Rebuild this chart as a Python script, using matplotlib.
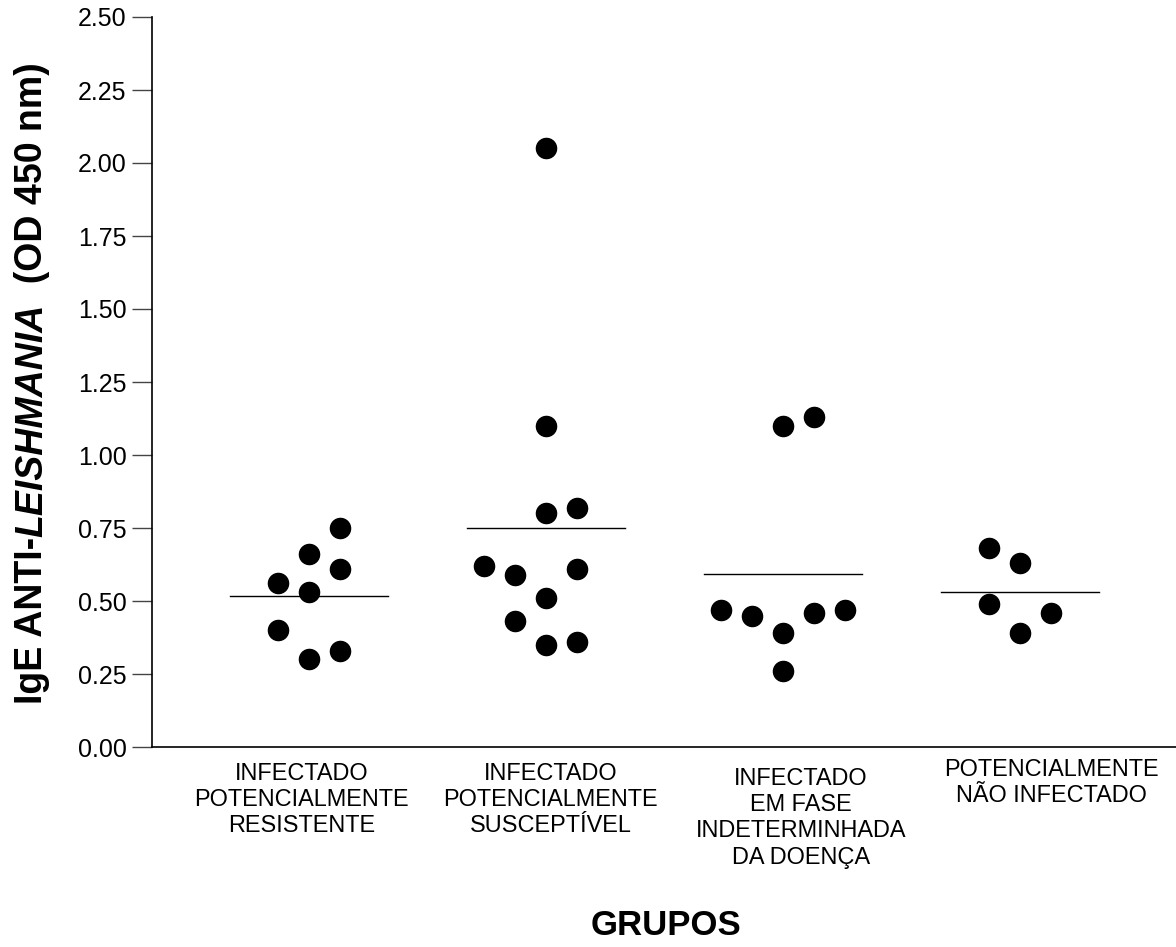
import matplotlib

matplotlib.use("Agg")
import matplotlib.pyplot as plt
import matplotlib.transforms as mtransforms
import numpy as np

plt.rcParams["font.family"] = ["Liberation Sans", "DejaVu Sans"]

# valores (IgE anti-Leishmania, OD 450 nm)
g1_values = [0.75, 0.66, 0.61, 0.56, 0.53, 0.40, 0.30, 0.33]
g2_values = [2.05, 1.10, 0.80, 0.82, 0.62, 0.59, 0.61, 0.51, 0.43, 0.35, 0.36]
g3_values = [1.10, 1.13, 0.47, 0.45, 0.39, 0.46, 0.47, 0.26]
g4_values = [0.68, 0.63, 0.49, 0.46, 0.39]

# coluna de cada ponto dentro do grupo (deslocamento lateral)
g1_cols = [1, 0, 1, -1, 0, -1, 0, 1]
g2_cols = [0, 0, 0, 1, -2, -1, 1, 0, -1, 0, 1]
g3_cols = [0, 1, -2, -1, 0, 1, 2, 0]
g4_cols = [-1, 0, -1, 1, 0]

group_labels = [
    "INFECTADO\nPOTENCIALMENTE\nRESISTENTE",
    "INFECTADO\nPOTENCIALMENTE\nSUSCEPTÍVEL",
    "INFECTADO\nEM FASE\nINDETERMINHADA\nDA DOENÇA",
    "POTENCIALMENTE\nNÃO INFECTADO",
]
y_ticks = [0.00, 0.25, 0.50, 0.75, 1.00, 1.25, 1.50, 1.75, 2.00, 2.25, 2.50]

W, H = 1176, 947
fig = plt.figure(figsize=(W / 100, H / 100), dpi=100)
ax = fig.add_axes([152 / W, 1 - 747 / H, 1 - 152 / W, (747 - 17) / H])

groups = [(g1_values, g1_cols), (g2_values, g2_cols), (g3_values, g3_cols), (g4_values, g4_cols)]
col_step = 0.131
half_line = 0.333
for i, (vals, cols) in enumerate(groups, start=1):
    xs = i + np.array(cols) * col_step
    ax.plot(xs, vals, "o", ms=14.5, color="black", mec="black", zorder=3)
    m = np.mean(vals)
    ax.plot([i - half_line, i + half_line], [m, m], color="black", lw=1.0, zorder=2)

ax.set_xlim(1 - 157 / 237, 4 + 156 / 237)
ax.set_ylim(0, 2.5)
ax.set_yticks(y_ticks)
ax.set_yticklabels([f"{t:.2f}" for t in y_ticks])
ax.set_xticks([])
ax.tick_params(axis="y", direction="out", length=14.4, width=1.0, color="#444444",
               labelsize=18, pad=4)
for side in ("top", "right"):
    ax.spines[side].set_visible(False)
ax.spines["left"].set_linewidth(1.2)
ax.spines["bottom"].set_linewidth(1.2)

# rótulos dos grupos
trans = mtransforms.blended_transform_factory(ax.transData, fig.transFigure)
label_x = [0.969, 2.02, 3.076, 4.131]
label_top = [762, 762, 767, 758]
for lx, ly, txt in zip(label_x, label_top, group_labels):
    ax.text(lx, 1 - ly / H, txt, transform=trans, ha="center", va="top",
            fontsize=16.9, linespacing=1.18)

fig.text(666 / W, 1 - 925 / H, "GRUPOS", ha="center", va="center",
         fontsize=25, fontweight="bold")

# rótulo do eixo y com LEISHMANIA em itálico
fig.canvas.draw()
r = fig.canvas.get_renderer()
parts = [("IgE ANTI-", "normal"), ("LEISHMANIA", "italic"), ("  (OD 450 nm)", "normal")]
texts, lengths = [], []
for s, st in parts:
    t = fig.text(0, 0, s, rotation=90, rotation_mode="anchor", ha="left", va="baseline",
                 fontsize=27, fontweight="bold", fontstyle=st)
    texts.append(t)
    lengths.append(t.get_window_extent(r).height)
y = (H - 383) - sum(lengths) / 2
for t, L in zip(texts, lengths):
    t.set_position((42 / W, y / H))
    y += L

fig.savefig("out.png", dpi=100)
